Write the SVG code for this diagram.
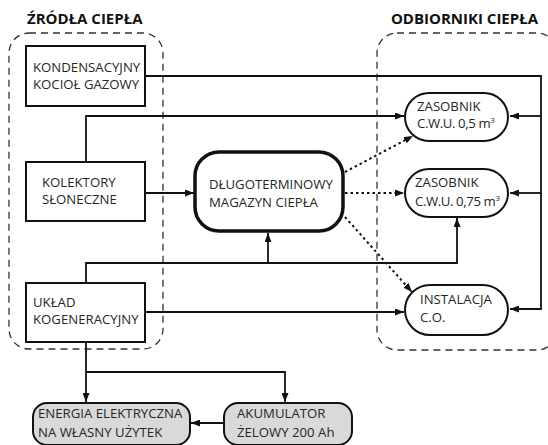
<svg xmlns="http://www.w3.org/2000/svg" width="548" height="445" viewBox="0 0 548 445">
<defs>
<marker id="ah" markerWidth="9" markerHeight="7" refX="9" refY="3.5" orient="auto" markerUnits="userSpaceOnUse"><path d="M0,0 L9,3.5 L0,7 Z" fill="#111"/></marker>
<style>
text{font-family:"Open Sans","Noto Sans","DejaVu Sans",sans-serif;font-size:13.2px;fill:#262626}
.title{font-weight:bold;font-size:15px;fill:#111}
.tight{letter-spacing:-0.4px}
.grp{fill:none;stroke:#333;stroke-width:1.3;stroke-dasharray:7,5}
.box{fill:#fff;stroke:#111;stroke-width:2}
.pill{fill:#fff;stroke:#111;stroke-width:2}
.gray{fill:#d9d9d9;stroke:#111;stroke-width:2}
.main{fill:#fff;stroke:#111;stroke-width:3.5}
.c{fill:none;stroke:#111;stroke-width:1.8}
.d{fill:none;stroke:#111;stroke-width:2;stroke-dasharray:2.5,3}
</style>
</defs>
<g id="groups">
<rect class="grp" x="9" y="33" width="154" height="316" rx="20"/>
<rect class="grp" x="377" y="33" width="180" height="317" rx="20"/>
<text class="title" x="27" y="24">ŹRÓDŁA CIEPŁA</text>
<text class="title" x="538" y="24" text-anchor="end">ODBIORNIKI CIEPŁA</text>
</g>
<g id="connectors">
<polyline class="c" points="145,76 541,76 541,309 510,309" marker-end="url(#ah)"/>
<line class="c" x1="541" y1="116" x2="510" y2="116" marker-end="url(#ah)"/>
<line class="c" x1="541" y1="193" x2="510" y2="193" marker-end="url(#ah)"/>
<polyline class="c" points="86,162 86,116 404,116" marker-end="url(#ah)"/>
<line class="c" x1="145" y1="193" x2="194" y2="193" marker-end="url(#ah)"/>
<polyline class="c" points="86,283 86,263 457,263 457,218" marker-end="url(#ah)"/>
<line class="c" x1="268" y1="263" x2="268" y2="233" marker-end="url(#ah)"/>
<line class="c" x1="145" y1="312" x2="404" y2="312" marker-end="url(#ah)"/>
<line class="c" x1="86" y1="342" x2="86" y2="402" marker-end="url(#ah)"/>
<polyline class="c" points="86,372 285,372 285,402" marker-end="url(#ah)"/>
<line class="c" x1="224" y1="423" x2="191" y2="423" marker-end="url(#ah)"/>
<line class="d" x1="345" y1="172" x2="413" y2="136" marker-end="url(#ah)"/>
<line class="d" x1="345" y1="193" x2="404" y2="193" marker-end="url(#ah)"/>
<line class="d" x1="345" y1="217" x2="412" y2="292" marker-end="url(#ah)"/>
</g>
<g id="kondensacyjny">
<rect class="box" x="26" y="46" width="119" height="60"/>
<text x="33" y="72">KONDENSACYJNY</text>
<text x="33" y="89">KOCIOŁ GAZOWY</text>
</g>
<g id="kolektory">
<rect class="box" x="26" y="162" width="119" height="59"/>
<text x="42" y="187">KOLEKTORY</text>
<text x="42" y="204">SŁONECZNE</text>
</g>
<g id="uklad">
<rect class="box" x="26" y="283" width="119" height="59"/>
<text x="33" y="307">UKŁAD</text>
<text x="33" y="324">KOGENERACYJNY</text>
</g>
<g id="magazyn">
<rect class="main" x="195" y="152" width="148" height="79" rx="24"/>
<text x="209" y="189">DŁUGOTERMINOWY</text>
<text x="209" y="207">MAGAZYN CIEPŁA</text>
</g>
<g id="zasobnik05">
<rect class="pill" x="405" y="93" width="103" height="48" rx="24"/>
<text x="417" y="111">ZASOBNIK</text>
<text class="tight" x="417" y="128">C.W.U. 0,5 m<tspan dy="-5" font-size="8">3</tspan></text>
</g>
<g id="zasobnik075">
<rect class="pill" x="405" y="169" width="103" height="48" rx="24"/>
<text x="415" y="187">ZASOBNIK</text>
<text class="tight" x="415" y="206">C.W.U. 0,75 m<tspan dy="-5" font-size="8">3</tspan></text>
</g>
<g id="instalacja">
<rect class="pill" x="405" y="285" width="103" height="50" rx="25"/>
<text x="420" y="304">INSTALACJA</text>
<text x="420" y="322">C.O.</text>
</g>
<g id="energia">
<rect class="gray" x="33" y="403" width="157" height="42" rx="14"/>
<text x="38" y="418">ENERGIA ELEKTRYCZNA</text>
<text x="38" y="437">NA WŁASNY UŻYTEK</text>
</g>
<g id="akumulator">
<rect class="gray" x="224" y="403" width="128" height="42" rx="14"/>
<text x="237" y="418">AKUMULATOR</text>
<text x="237" y="437">ŻELOWY 200 Ah</text>
</g>
</svg>
